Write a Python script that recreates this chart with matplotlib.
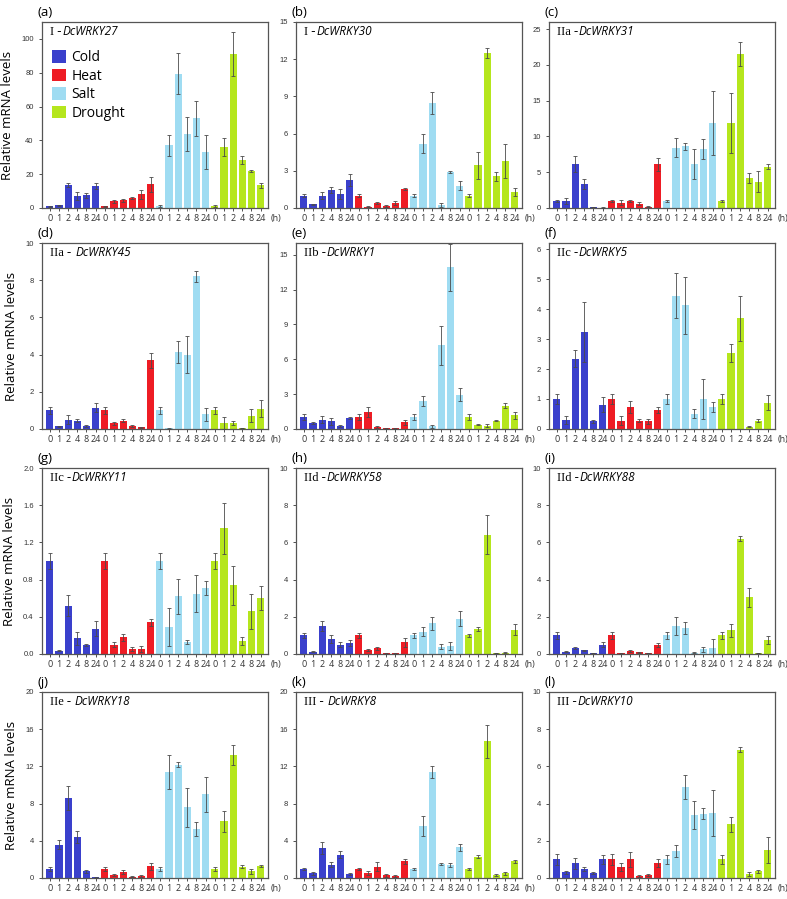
import matplotlib
matplotlib.use('Agg')
import matplotlib.pyplot as plt
from matplotlib.patches import Patch
import numpy as np

times = ['0', '1', '2', '4', '8', '24']
treatments = ['Cold', 'Heat', 'Salt', 'Drought']
colors = ['#3a40cc', '#ee1c24', '#9fdcf2', '#b5e61d']

panel_tags = ['(a)', '(b)', '(c)', '(d)', '(e)', '(f)', '(g)', '(h)', '(i)', '(j)', '(k)', '(l)']
gene_class = ['I -', 'I -', 'IIa -', 'IIa - ', 'IIb -', 'IIc -', 'IIc -', 'IId -', 'IId -', 'IIe - ', 'III - ', 'III -']
gene_names = ['DcWRKY27', 'DcWRKY30', 'DcWRKY31', 'DcWRKY45', 'DcWRKY1', 'DcWRKY5',
              'DcWRKY11', 'DcWRKY58', 'DcWRKY88', 'DcWRKY18', 'DcWRKY8', 'DcWRKY10']

# values ordered: Cold(0,1,2,4,8,24), Heat(...), Salt(...), Drought(...)
wrky27_mean = [1, 1.5, 13.5, 7, 7.5, 13, 1, 4, 4.5, 6, 8, 14, 1, 37, 79.5, 44, 53, 33, 1, 36, 91, 28.5, 22, 13.5]
wrky27_err = [0.3, 0.5, 1.2, 2.5, 1.5, 2, 0.3, 1, 1, 0.8, 2.5, 4.5, 0.5, 6, 12, 10, 10.5, 10, 0.5, 5.5, 13, 2.5, 0.7, 1.5]
wrky30_mean = [1, 0.3, 1, 1.45, 1.15, 2.25, 1, 0.12, 0.4, 0.2, 0.4, 1.55, 1, 5.2, 8.45, 0.25, 2.9, 1.8, 1, 3.45, 12.5, 2.55, 3.8, 1.3]
wrky30_err = [0.15, 0.05, 0.3, 0.25, 0.4, 0.5, 0.15, 0.05, 0.1, 0.08, 0.15, 0.08, 0.15, 0.8, 0.9, 0.15, 0.08, 0.35, 0.15, 1.1, 0.4, 0.35, 1.4, 0.3]
wrky31_mean = [1, 1, 6.2, 3.35, 0.15, 0.05, 1, 0.7, 1, 0.6, 0.2, 6.1, 1, 8.45, 8.6, 6.2, 8.25, 11.9, 1, 11.9, 21.5, 4.25, 3.7, 5.8]
wrky31_err = [0.15, 0.4, 1.1, 0.7, 0.05, 0.03, 0.15, 0.35, 0.1, 0.25, 0.1, 0.9, 0.15, 1.35, 0.5, 2.1, 1.45, 4.5, 0.15, 4.2, 1.7, 0.7, 1.5, 0.3]
wrky45_mean = [1, 0.14, 0.5, 0.45, 0.15, 1.15, 1, 0.3, 0.45, 0.15, 0.1, 3.7, 1, 0.05, 4.15, 4.0, 8.2, 0.8, 1, 0.32, 0.32, 0.05, 0.7, 1.1]
wrky45_err = [0.2, 0.03, 0.25, 0.08, 0.04, 0.25, 0.2, 0.08, 0.08, 0.04, 0.03, 0.4, 0.2, 0.03, 0.6, 1.0, 0.3, 0.35, 0.2, 0.3, 0.12, 0.02, 0.35, 0.45]
wrky1_mean = [1, 0.5, 0.8, 0.65, 0.25, 0.95, 1, 1.45, 0.2, 0.08, 0.08, 0.58, 1, 2.4, 0.22, 7.2, 13.9, 2.95, 1, 0.38, 0.3, 0.72, 2.0, 1.2]
wrky1_err = [0.25, 0.1, 0.3, 0.3, 0.06, 0.12, 0.25, 0.4, 0.08, 0.04, 0.04, 0.2, 0.25, 0.45, 0.1, 1.7, 2.0, 0.55, 0.25, 0.06, 0.1, 0.05, 0.2, 0.3]
wrky5_mean = [1, 0.3, 2.35, 3.25, 0.25, 0.8, 1, 0.27, 0.73, 0.27, 0.25, 0.63, 1, 4.45, 4.12, 0.5, 1.0, 0.72, 1, 2.55, 3.7, 0.08, 0.28, 0.87]
wrky5_err = [0.18, 0.12, 0.27, 1.0, 0.05, 0.25, 0.18, 0.15, 0.2, 0.05, 0.08, 0.1, 0.18, 0.76, 0.95, 0.15, 0.68, 0.17, 0.18, 0.3, 0.75, 0.03, 0.06, 0.25]
wrky11_mean = [1.0, 0.035, 0.52, 0.17, 0.1, 0.27, 1.0, 0.1, 0.18, 0.05, 0.055, 0.34, 1.0, 0.29, 0.62, 0.13, 0.65, 0.71, 1.0, 1.35, 0.74, 0.14, 0.46, 0.6]
wrky11_err = [0.09, 0.005, 0.11, 0.07, 0.01, 0.08, 0.09, 0.03, 0.04, 0.02, 0.03, 0.04, 0.09, 0.2, 0.19, 0.02, 0.2, 0.08, 0.09, 0.27, 0.21, 0.04, 0.19, 0.13]
wrky58_mean = [1.0, 0.12, 1.5, 0.8, 0.5, 0.6, 1.0, 0.2, 0.3, 0.05, 0.05, 0.63, 1.0, 1.2, 1.65, 0.4, 0.42, 1.9, 1.0, 1.35, 6.4, 0.05, 0.08, 1.3]
wrky58_err = [0.15, 0.03, 0.28, 0.2, 0.15, 0.15, 0.15, 0.05, 0.08, 0.03, 0.03, 0.25, 0.15, 0.25, 0.35, 0.15, 0.2, 0.4, 0.1, 0.1, 1.05, 0.02, 0.02, 0.3]
wrky88_mean = [1.0, 0.12, 0.3, 0.2, 0.05, 0.5, 1.0, 0.04, 0.15, 0.1, 0.05, 0.5, 1.0, 1.5, 1.4, 0.08, 0.25, 0.3, 1.0, 1.28, 6.2, 3.05, 0.05, 0.75]
wrky88_err = [0.2, 0.03, 0.05, 0.04, 0.02, 0.15, 0.2, 0.02, 0.04, 0.03, 0.02, 0.1, 0.2, 0.5, 0.3, 0.03, 0.15, 0.5, 0.2, 0.35, 0.12, 0.5, 0.02, 0.2]
wrky18_mean = [1.0, 3.6, 8.6, 4.45, 0.7, 0.1, 1.0, 0.35, 0.65, 0.15, 0.25, 1.25, 1.0, 11.4, 12.2, 7.6, 5.3, 9.0, 1.0, 6.1, 13.2, 1.2, 0.7, 1.3]
wrky18_err = [0.2, 0.5, 1.3, 0.65, 0.15, 0.05, 0.2, 0.1, 0.25, 0.05, 0.1, 0.4, 0.2, 1.8, 0.3, 2.1, 0.75, 1.9, 0.2, 1.1, 1.1, 0.15, 0.3, 0.15]
wrky8_mean = [1.0, 0.5, 3.2, 1.45, 2.5, 0.45, 1.0, 0.5, 1.2, 0.3, 0.2, 1.8, 1.0, 5.6, 11.4, 1.5, 1.4, 3.3, 1.0, 2.3, 14.7, 0.3, 0.5, 1.8]
wrky8_err = [0.1, 0.15, 0.65, 0.3, 0.35, 0.1, 0.1, 0.2, 0.5, 0.15, 0.1, 0.25, 0.1, 1.1, 0.6, 0.1, 0.2, 0.4, 0.1, 0.15, 1.8, 0.1, 0.15, 0.15]
wrky10_mean = [1.0, 0.3, 0.8, 0.5, 0.25, 1.0, 1.0, 0.6, 1.0, 0.1, 0.15, 0.8, 1.0, 1.45, 4.9, 3.4, 3.45, 3.5, 1.0, 2.9, 6.9, 0.2, 0.35, 1.5]
wrky10_err = [0.3, 0.1, 0.3, 0.1, 0.05, 0.25, 0.3, 0.2, 0.4, 0.05, 0.05, 0.2, 0.25, 0.3, 0.65, 0.75, 0.3, 1.25, 0.25, 0.4, 0.15, 0.1, 0.1, 0.7]

means = [wrky27_mean, wrky30_mean, wrky31_mean, wrky45_mean, wrky1_mean, wrky5_mean,
         wrky11_mean, wrky58_mean, wrky88_mean, wrky18_mean, wrky8_mean, wrky10_mean]
errs = [wrky27_err, wrky30_err, wrky31_err, wrky45_err, wrky1_err, wrky5_err,
        wrky11_err, wrky58_err, wrky88_err, wrky18_err, wrky8_err, wrky10_err]

ylims = [110, 15, 26, 10, 16, 6.2, 2.0, 10, 10, 20, 20, 10]
ysteps = [20, 3, 5, 2, 3, 1, 0.4, 2, 2, 4, 4, 2]
ymaxtick = [100, 15, 25, 10, 15, 6, 2.0, 10, 10, 20, 20, 10]

W, H = 787, 899
fig = plt.figure(figsize=(W / 100, H / 100), dpi=100)
renderer = fig.canvas.get_renderer()

col_left = [42, 296, 549]
row_top = [22, 243, 468, 692]
aw, ah = 226, 186

spine_c = '#555555'
x = np.arange(24)
bar_colors = [c for c in colors for _ in range(6)]

for i in range(12):
    r, c = divmod(i, 3)
    l = col_left[c]
    t = row_top[r]
    ax = fig.add_axes([l / W, 1 - (t + ah) / H, aw / W, ah / H])
    ax.bar(x, means[i], width=0.78, color=bar_colors, edgecolor='none', zorder=2)
    ax.errorbar(x, means[i], yerr=errs[i], fmt='none', ecolor='#4a4a4a',
                elinewidth=0.6, capsize=1.6, capthick=0.6, zorder=3)
    ax.set_xlim(-0.85, 23.8)
    ax.set_ylim(0, ylims[i])
    ticks = np.arange(0, ymaxtick[i] + ysteps[i] / 2, ysteps[i])
    ax.set_yticks(ticks)
    if ysteps[i] < 1:
        ax.set_yticklabels([f'{v:.1f}' for v in ticks])
    else:
        ax.set_yticklabels([f'{int(round(v))}' for v in ticks])
    ax.set_xticks(x)
    ax.set_xticklabels(times * 4)
    ax.tick_params(axis='x', length=2.5, width=0.6, pad=2, labelsize=6.5, colors='#333333')
    ax.tick_params(axis='y', length=2, width=0.6, pad=4, labelsize=5.5, colors='#333333')
    for lab in ax.get_xticklabels():
        lab.set_family('Open Sans')
    for lab in ax.get_yticklabels():
        lab.set_family('Liberation Sans')
    for s in ax.spines.values():
        s.set_color(spine_c)
        s.set_linewidth(0.9)
    ax.annotate('(h)', xy=(1, 0), xycoords='axes fraction', xytext=(2, -4.5),
                textcoords='offset points', ha='left', va='top', fontsize=6.5,
                family='Open Sans', color='#333333')
    # panel tag
    ax.text(-0.02, 1.015, panel_tags[i], transform=ax.transAxes, ha='left', va='bottom',
            fontsize=9.5, family='Open Sans')
    # gene title
    t1 = ax.text(0.035, 0.93, gene_class[i], transform=ax.transAxes, fontsize=9,
                 family='Liberation Serif', va='baseline', ha='left')
    bb = t1.get_window_extent(renderer=renderer)
    x2 = ax.transAxes.inverted().transform((bb.x1, bb.y0))[0]
    ax.text(x2 + 0.004, 0.93, gene_names[i], transform=ax.transAxes, fontsize=8.5,
            family='Open Sans', style='italic', va='baseline', ha='left')
    if c == 0:
        ax.set_ylabel('Relative mRNA levels', fontsize=9.5, family='Open Sans', labelpad=5)
    if i == 0:
        handles = [Patch(facecolor=col, edgecolor='none') for col in colors]
        ax.legend(handles, treatments, loc='upper left', bbox_to_anchor=(0.0, 0.9),
                  frameon=False, handlelength=1.0, handleheight=1.0,
                  handletextpad=0.4, labelspacing=0.25, borderaxespad=0.3,
                  prop={'family': 'Open Sans', 'size': 10})

fig.savefig('out.png', dpi=100)
